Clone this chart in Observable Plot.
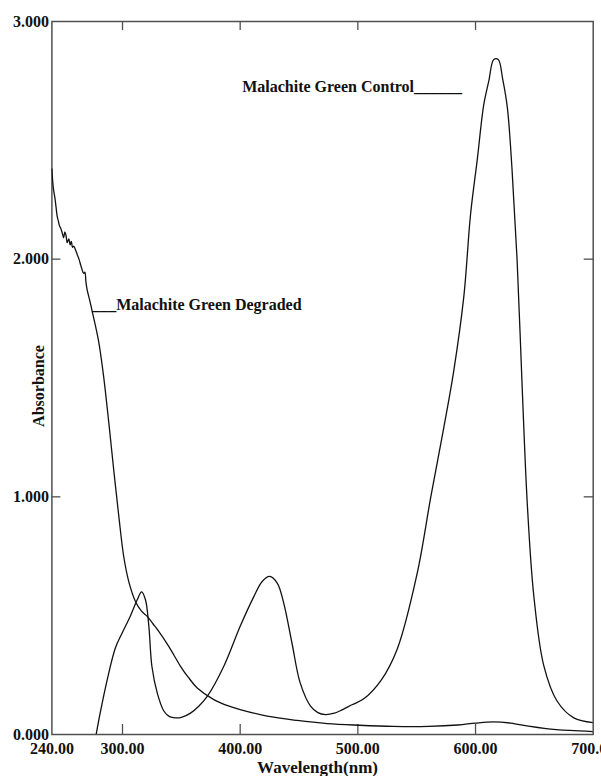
<!DOCTYPE html>
<html><head><meta charset="utf-8">
<script src="https://cdn.jsdelivr.net/npm/d3@7"></script>
<script src="https://cdn.jsdelivr.net/npm/@observablehq/plot@0.6"></script>
<style>body{margin:0;background:#fff;}</style>
</head><body><div id="chart"></div>
<script>
const controlWavelength = [277.6,281,287,294,300,306.8,312.5,316.2,319.5,322.4,325,329.5,335,340,345,350,357.8,365,372,386,400,411.6,418.7,425,431.5,437,444,451,459.8,466,472.5,480,485,495,505,520,533.5,550.5,562,573,581.5,590,595.8,601.5,607,611.3,615.5,619.3,623,627,631,635.3,639.7,644,649.5,658,669.4,683.5,700];
const controlAbsorbance = [0,0.09,0.23,0.365,0.43,0.50,0.567,0.60,0.567,0.455,0.286,0.175,0.10,0.075,0.07,0.072,0.09,0.12,0.16,0.286,0.455,0.58,0.644,0.665,0.637,0.553,0.385,0.217,0.119,0.092,0.084,0.09,0.10,0.125,0.15,0.23,0.36,0.68,1.0,1.29,1.53,1.84,2.19,2.42,2.65,2.75,2.84,2.84,2.76,2.64,2.38,2.0,1.455,0.97,0.585,0.29,0.14,0.07,0.05];
const degradedWavelength = [240,240.8,241.5,242.5,243.5,244.5,245.5,246.5,247.5,248.8,250,251,252,253,254.4,255.5,256.5,257.5,258.5,260,261.5,263,264.5,265.7,267,268,269,270,272,274,277,280,284,288.4,292.6,296.9,301,305.5,311,316,321,326,330.8,339.3,349.3,356,363.5,377.6,390,400,423,448.5,474,501,530,560,585,600,615,630,645,660,680,700];
const degradedAbsorbance = [2.38,2.32,2.29,2.26,2.22,2.18,2.16,2.14,2.13,2.11,2.09,2.115,2.10,2.07,2.085,2.06,2.075,2.05,2.055,2.04,2.02,2.00,1.975,1.955,1.94,1.945,1.90,1.87,1.83,1.786,1.72,1.646,1.505,1.31,1.11,0.917,0.75,0.64,0.56,0.52,0.497,0.465,0.434,0.371,0.287,0.24,0.196,0.147,0.12,0.105,0.077,0.059,0.046,0.039,0.034,0.034,0.04,0.048,0.053,0.048,0.035,0.025,0.017,0.012];
const xTickValues = [240,300,400,500,600,700];
const xInnerTicks = [300,400,500,600];
const yTickValues = [0,1,2,3];
const yInnerTicks = [1,2];
const annotationText = ["Malachite Green Control______", "___Malachite Green Degraded"];
const annotationWavelength = [401.7, 274.2];
const annotationAbsorbance = [2.705, 1.788];
const xLabel = "Wavelength(nm)";
const yLabel = "Absorbance";

const control = controlWavelength.map((w, i) => ({w, a: controlAbsorbance[i]}));
const degraded = degradedWavelength.map((w, i) => ({w, a: degradedAbsorbance[i]}));
const annotations = annotationText.map((t, i) => ({t, w: annotationWavelength[i], a: annotationAbsorbance[i]}));

const frameColor = "#505050";
const plot = Plot.plot({
  width: 601, height: 776,
  marginLeft: 51.4, marginRight: 8.3, marginTop: 21, marginBottom: 42,
  style: {fontFamily: "'Liberation Serif','Times New Roman',serif", fontSize: "16px", fontWeight: "bold", color: "#111", background: "#fff"},
  x: {domain: [240, 700]},
  y: {domain: [0, 3]},
  marks: [
    Plot.frame({stroke: frameColor, strokeWidth: 1.5}),
    Plot.axisX(xTickValues, {anchor: "bottom", tickSize: 0, tickPadding: 8, tickFormat: d3.format(".2f"), label: null}),
    Plot.axisX(xInnerTicks, {anchor: "bottom", tickSize: 10, dy: -10, fill: "none", stroke: frameColor, strokeWidth: 1.3}),
    Plot.axisX(xInnerTicks, {anchor: "top", tickSize: 8, dy: 8, fill: "none", stroke: frameColor, strokeWidth: 1.3}),
    Plot.axisY(yTickValues, {anchor: "left", tickSize: 0, tickPadding: 3, tickFormat: d3.format(".3f"), label: null}),
    Plot.axisY(yInnerTicks, {anchor: "left", tickSize: 9, dx: 9, fill: "none", stroke: frameColor, strokeWidth: 1.3}),
    Plot.axisY(yInnerTicks, {anchor: "right", tickSize: 10, dx: -10, fill: "none", stroke: frameColor, strokeWidth: 1.3}),
    Plot.lineY(control, {x: "w", y: "a", curve: "catmull-rom", stroke: "#111", strokeWidth: 1.3, clip: true}),
    Plot.lineY(degraded, {x: "w", y: "a", curve: "catmull-rom", stroke: "#111", strokeWidth: 1.3, clip: true}),
    Plot.text(annotations, {x: "w", y: "a", text: "t", textAnchor: "start", lineAnchor: "bottom", fontSize: 16, fill: "#111"}),
    Plot.text([xLabel], {frameAnchor: "bottom", textAnchor: "middle", lineAnchor: "bottom", dx: -5, dy: 38, fontSize: 17, fill: "#111"}),
    Plot.text([yLabel], {frameAnchor: "left", textAnchor: "middle", rotate: -90, lineAnchor: "bottom", dx: -8, dy: 8, fontSize: 16, fill: "#111"})
  ]
});
document.getElementById("chart").appendChild(plot);
</script>
</body></html>
